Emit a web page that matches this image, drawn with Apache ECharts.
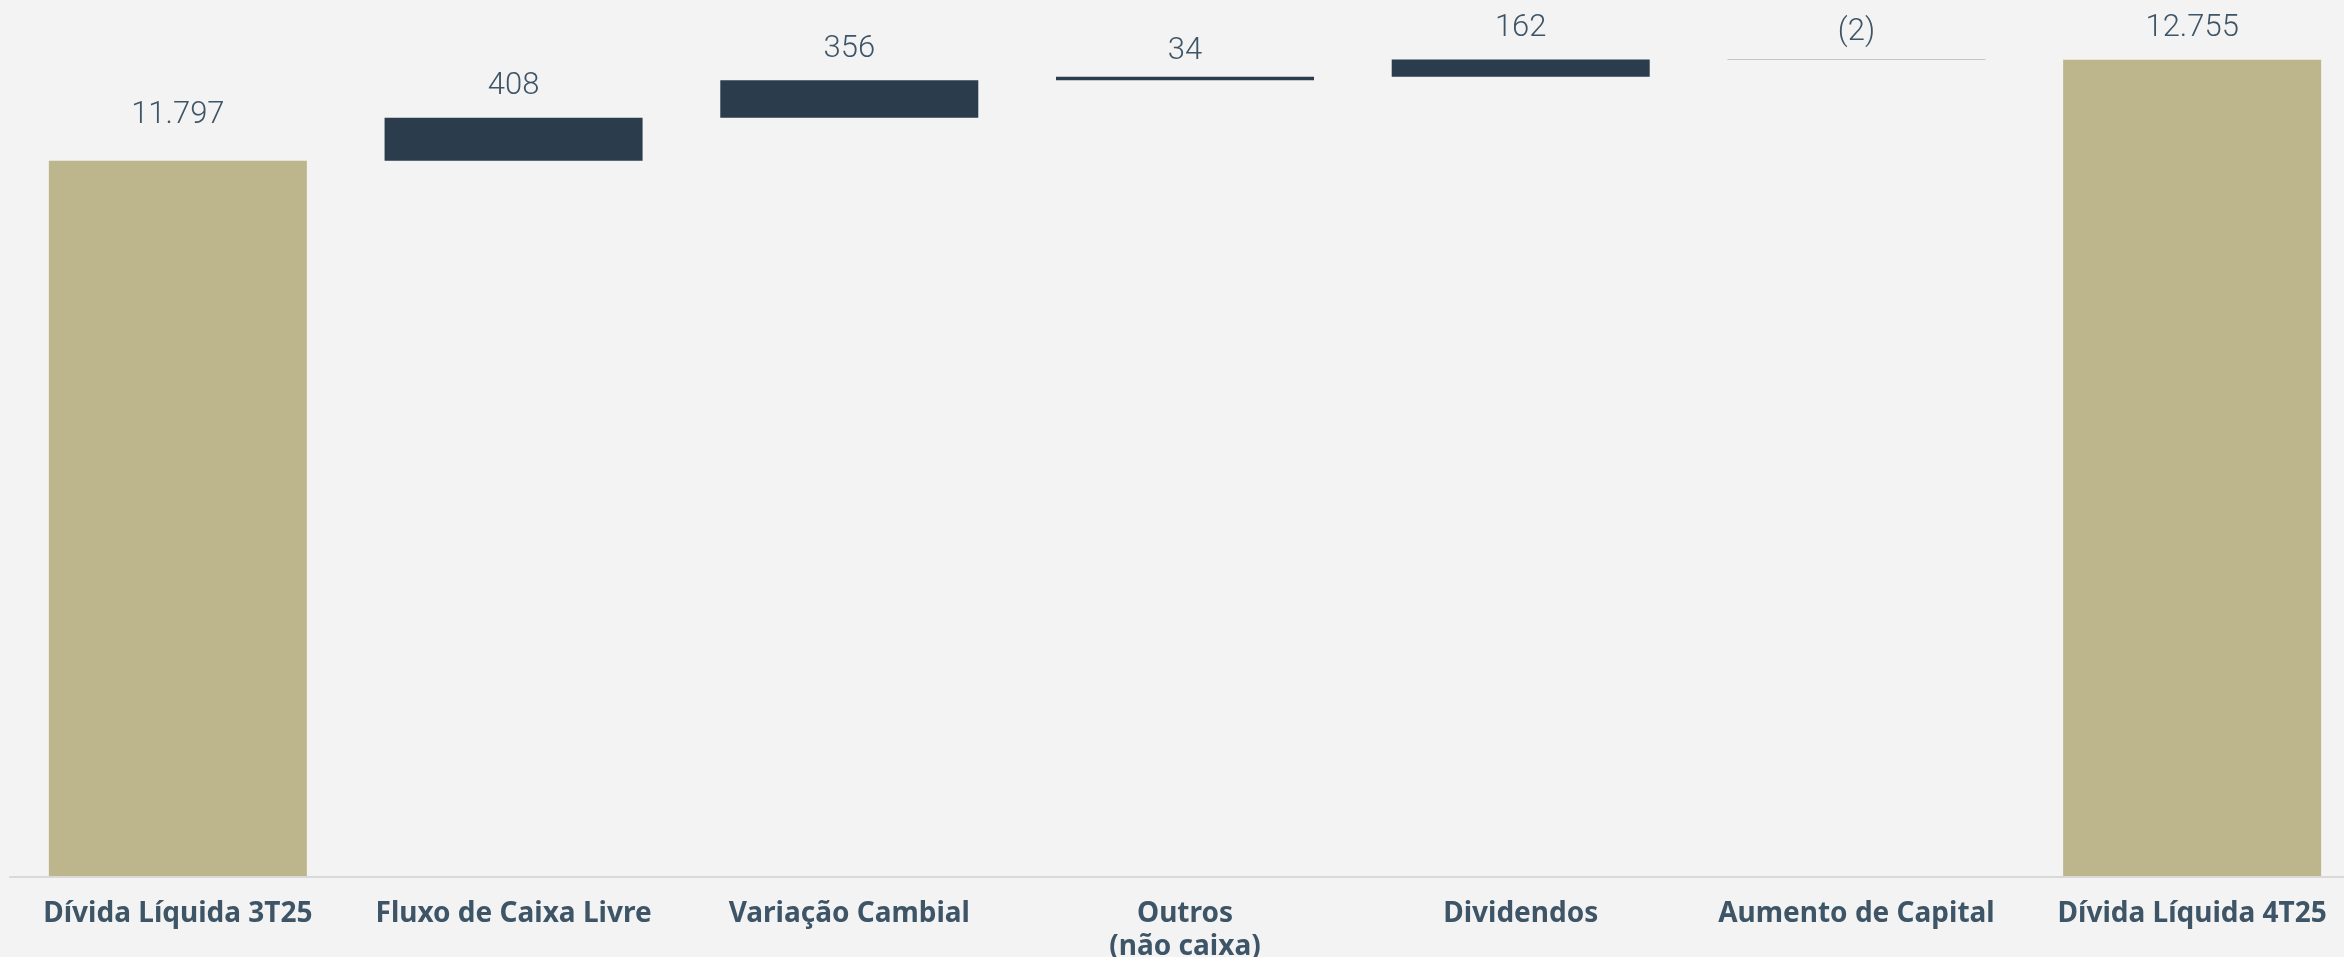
<!DOCTYPE html>
<html>
<head>
<meta charset="utf-8">
<script src="https://cdn.jsdelivr.net/npm/echarts@6/dist/echarts.min.js"></script>
<style>
  html, body { margin: 0; padding: 0; background: #f3f3f3; overflow: hidden; }
  #main { width: 2344px; height: 957px; }
</style>
</head>
<body>
<div id="main"></div>
<script>
// categorias e valores (R$ milhões)
var categories = ['Dívida Líquida 3T25', 'Fluxo de Caixa Livre', 'Variação Cambial', 'Outros\n(não caixa)', 'Dividendos', 'Aumento de Capital', 'Dívida Líquida 4T25']
var values = [11797, 408, 356, 34, 162, -2, 12755]
var isTotal = [true, false, false, false, false, false, true]

var TAN = '#bdb58b'
var DARK = '#2b3d4c'
var TEXT = '#3d5566'
// ajuste fino da distancia dos rotulos
var labelNudge = { 0: 30, 3: 10, 5: 12 }

function fmt (v) {
  var s = Math.abs(v).toString().replace(/\B(?=(\d{3})+(?!\d))/g, '.')
  return v < 0 ? '(' + s + ')' : s
}

// base invisivel + barra visivel
var baseData = []
var barData = []
var running = 0
values.forEach(function (v, i) {
  var item
  if (isTotal[i]) {
    baseData.push(0)
    item = { value: v, raw: v, itemStyle: { color: TAN } }
    running = v
  } else {
    baseData.push(v >= 0 ? running : running + v)
    item = { value: Math.abs(v), raw: v, itemStyle: { color: DARK } }
    running = running + v
  }
  if (labelNudge[i] !== undefined) item.label = { distance: labelNudge[i] }
  barData.push(item)
})

var myChart = echarts.init(document.getElementById('main'))
var option = {
  backgroundColor: '#f3f3f3',
  animation: false,
  grid: { left: 10, right: -16, top: 34, bottom: 80, outerBoundsMode: 'none', containLabel: false },
  xAxis: {
    type: 'category',
    data: categories,
    axisLine: { lineStyle: { color: '#d9d9d9', width: 2 } },
    axisTick: { show: false },
    axisLabel: {
      color: TEXT,
      fontFamily: 'Noto Sans',
      fontWeight: 'bold',
      fontSize: 28,
      lineHeight: 33,
      margin: 21,
      interval: 0
    },
    z: 10
  },
  yAxis: {
    type: 'value',
    min: 5000,
    max: 13000,
    show: false,
    splitLine: { show: false }
  },
  series: [
    {
      type: 'bar',
      stack: 'w',
      data: baseData,
      barWidth: 258,
      itemStyle: { color: 'transparent' },
      silent: true
    },
    {
      type: 'bar',
      stack: 'w',
      data: barData,
      barWidth: 258,
      label: {
        show: true,
        position: 'top',
        distance: 16,
        color: TEXT,
        fontFamily: 'Roboto',
        fontWeight: 300,
        fontSize: 31,
        formatter: function (p) { return fmt(p.data.raw) }
      }
    }
  ]
}
myChart.setOption(option)
</script>
</body>
</html>
